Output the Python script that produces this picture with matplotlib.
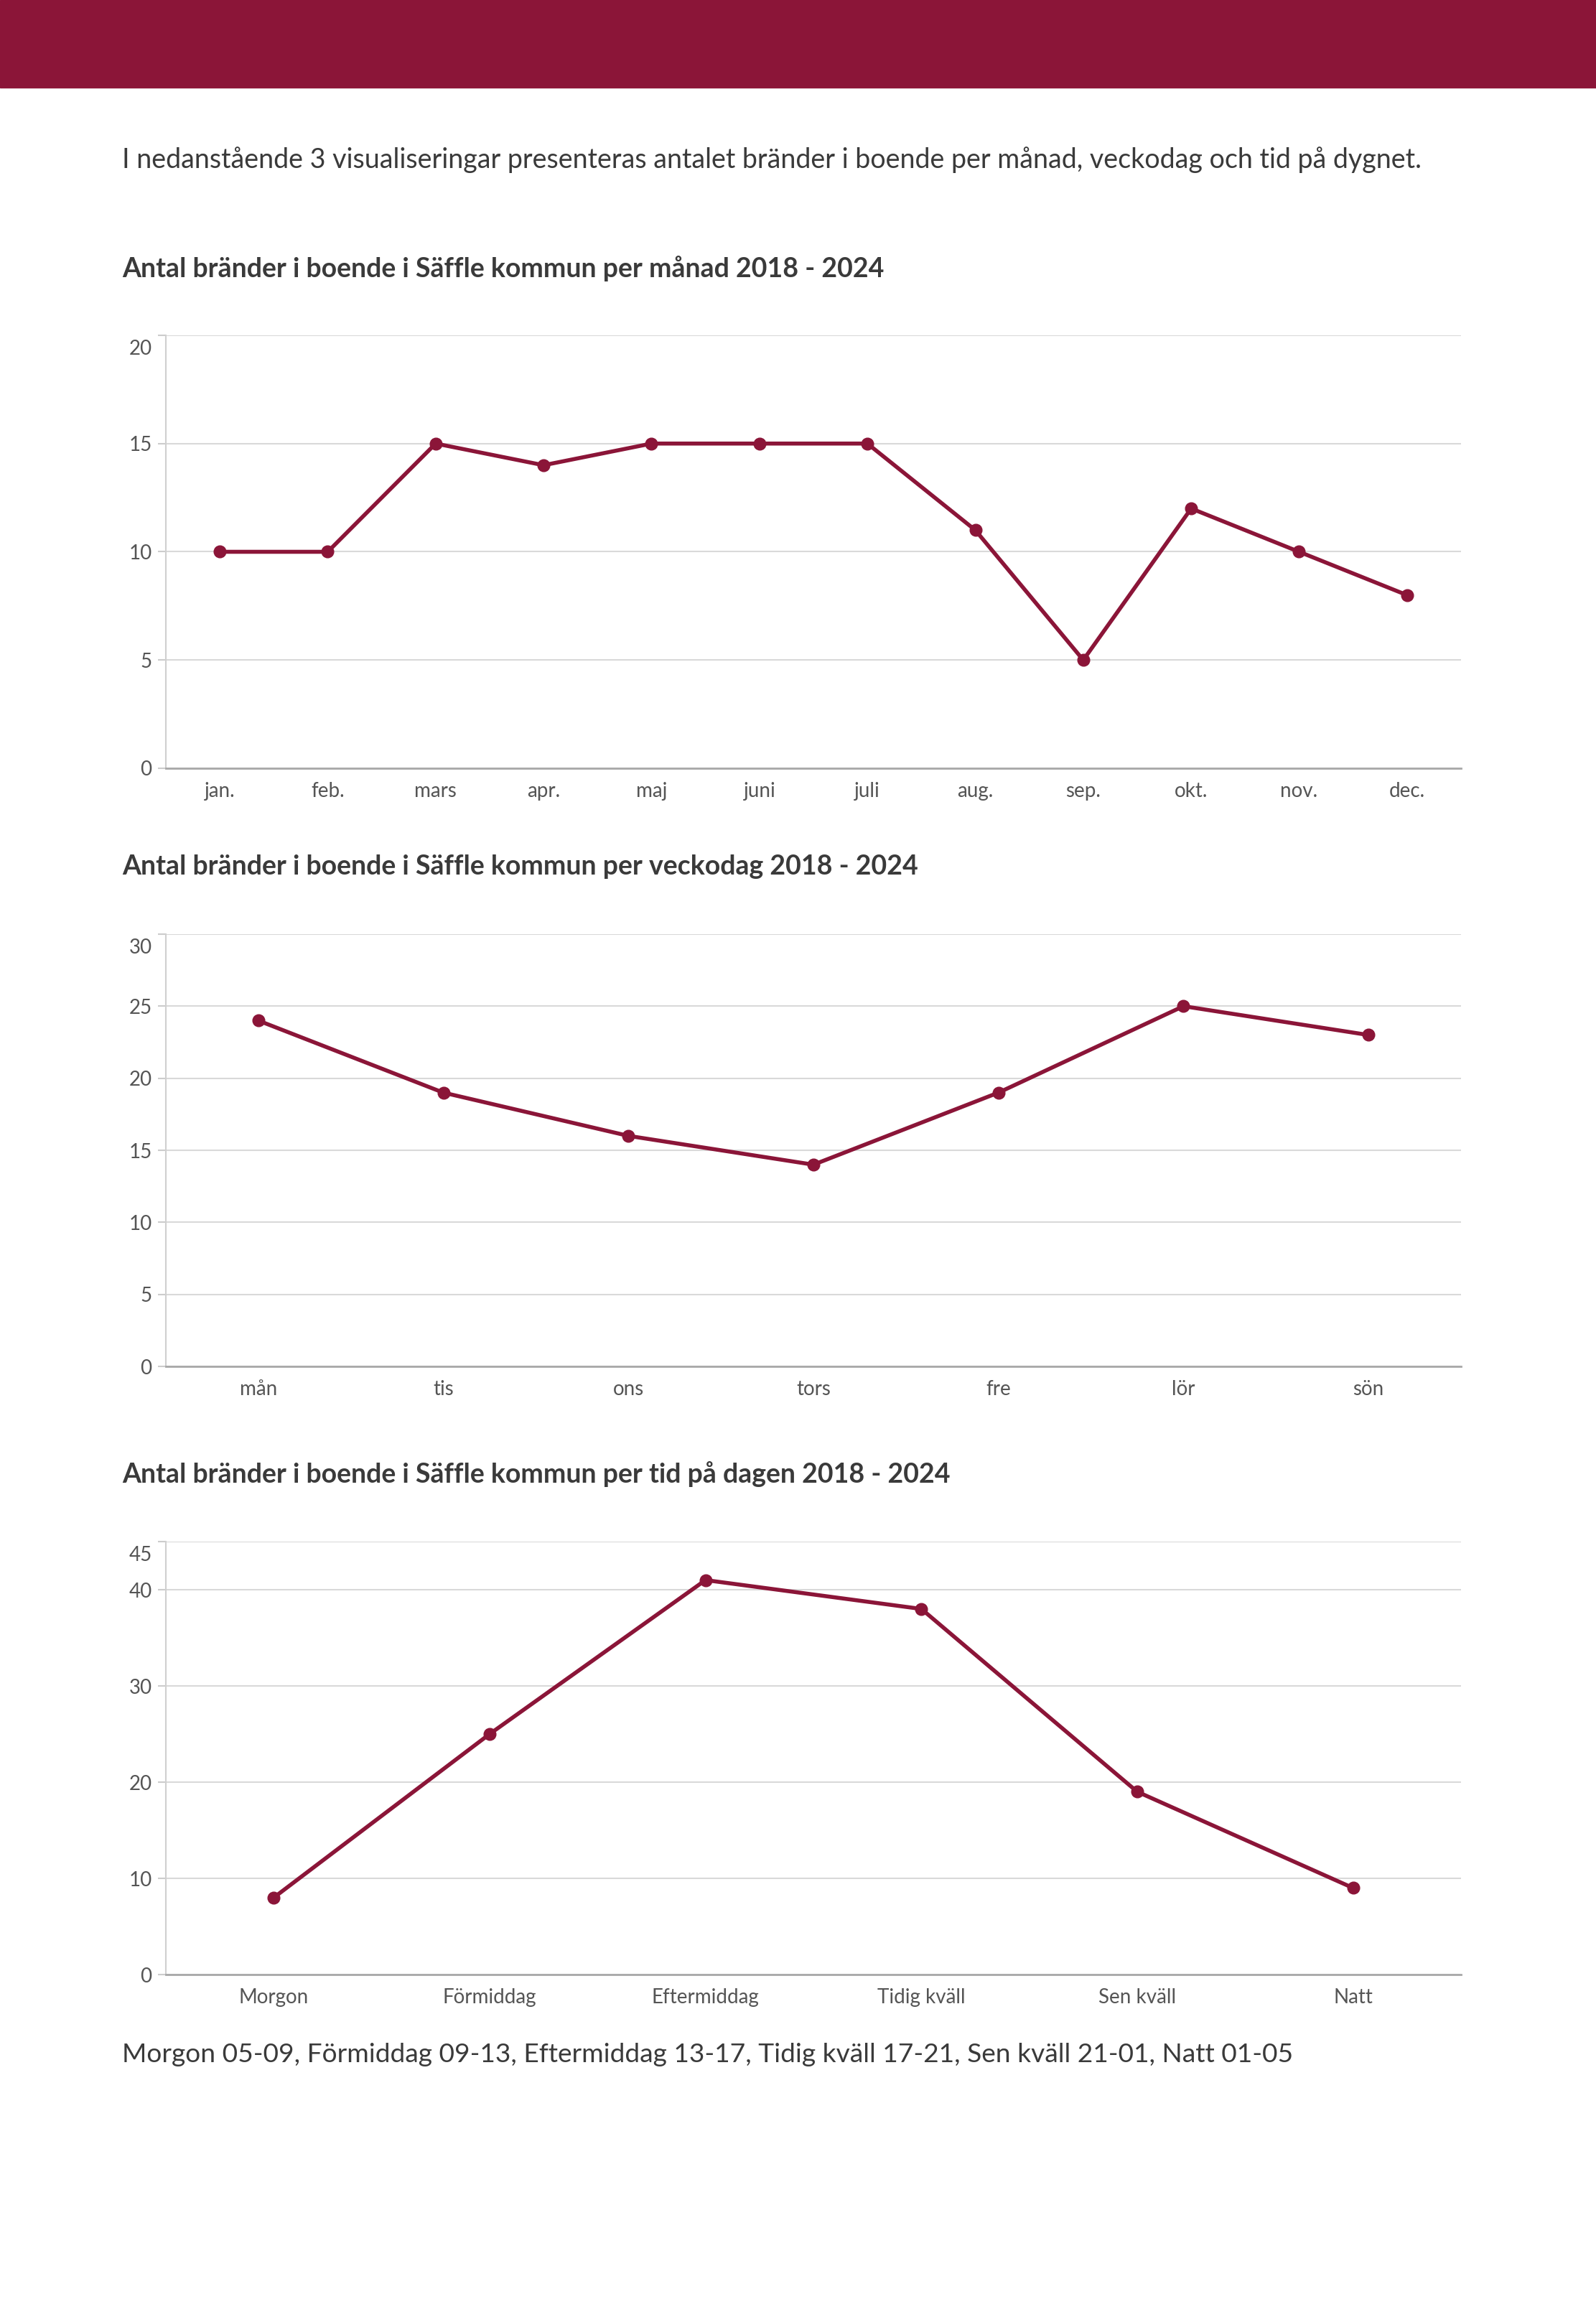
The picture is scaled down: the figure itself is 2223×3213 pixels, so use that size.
import matplotlib.pyplot as plt
from matplotlib.patches import Rectangle
from matplotlib.transforms import ScaledTranslation

# Data
months = ["jan.", "feb.", "mars", "apr.", "maj", "juni", "juli", "aug.", "sep.", "okt.", "nov.", "dec."]
fires_month = [10, 10, 15, 14, 15, 15, 15, 11, 5, 12, 10, 8]

weekdays = ["mån", "tis", "ons", "tors", "fre", "lör", "sön"]
fires_weekday = [24, 19, 16, 14, 19, 25, 23]

dayparts = ["Morgon", "Förmiddag", "Eftermiddag", "Tidig kväll", "Sen kväll", "Natt"]
fires_daypart = [8, 25, 41, 38, 19, 9]

RED = "#8b1538"
TEXT = "#3a3a3a"
TICK = "#555555"

plt.rcParams["font.family"] = ["Lato", "DejaVu Sans"]

W, H = 2223, 3213
fig = plt.figure(figsize=(W / 100, H / 100), dpi=100)

# header band
fig.patches.append(Rectangle((0, 1 - 122 / H), 1, 122 / H, transform=fig.transFigure,
                             color=RED, zorder=0))

fig.text(170 / W, 1 - 223 / H,
         "I nedanstående 3 visualiseringar presenteras antalet bränder i boende per månad, veckodag och tid på dygnet.",
         fontsize=27.1, color=TEXT, va="center", ha="left")

titles = [
    "Antal bränder i boende i Säffle kommun per månad 2018 - 2024",
    "Antal bränder i boende i Säffle kommun per veckodag 2018 - 2024",
    "Antal bränder i boende i Säffle kommun per tid på dagen 2018 - 2024",
]
title_y = [374, 1207, 2053]

charts = [
    (months, fires_month, [0, 5, 10, 15, 20], 20, 467, 1070),
    (weekdays, fires_weekday, [0, 5, 10, 15, 20, 25, 30], 30, 1301, 1903),
    (dayparts, fires_daypart, [0, 10, 20, 30, 40, 45], 45, 2147, 2750),
]

left, right = 231, 2035
for (cats, vals, yticks, ymax, top, bottom), title, ty in zip(charts, titles, title_y):
    fig.text(170 / W, 1 - ty / H, title, fontsize=27, fontweight="bold",
             color=TEXT, va="center", ha="left")
    ax = fig.add_axes([left / W, 1 - bottom / H, (right - left) / W, (bottom - top) / H])
    x = list(range(len(cats)))
    ax.plot(x, vals, color=RED, linewidth=4, marker="o", markersize=12,
            zorder=3, clip_on=False)
    ax.set_xlim(-0.5, len(cats) - 0.5)
    ax.set_ylim(0, ymax)
    ax.set_yticks(yticks)
    ax.set_xticks(x)
    ax.set_xticklabels(cats)
    ax.grid(axis="y", color="#d9d9d9", linewidth=1.5)
    ax.set_axisbelow(True)
    for s in ["top", "right"]:
        ax.spines[s].set_visible(False)
    ax.spines["left"].set_color("#d0d0d0")
    ax.spines["left"].set_linewidth(1.5)
    ax.spines["bottom"].set_color("#a8a8a8")
    ax.spines["bottom"].set_linewidth(2)
    ax.tick_params(axis="y", colors="#cccccc", labelcolor=TICK, labelsize=20,
                   length=8, width=1.5, pad=6)
    ax.tick_params(axis="x", length=0, labelcolor=TICK, labelsize=20, pad=14)
    # top label sits a bit below its grid line
    top_lab = ax.get_yticklabels()[-1]
    top_lab.set_transform(top_lab.get_transform() + ScaledTranslation(0, -0.16, fig.dpi_scale_trans))

fig.text(170 / W, 1 - 2861 / H,
         "Morgon 05-09, Förmiddag 09-13, Eftermiddag 13-17, Tidig kväll 17-21, Sen kväll 21-01, Natt 01-05",
         fontsize=26.7, color=TEXT, va="center", ha="left")

fig.savefig("out.png", dpi=100, facecolor="white")
